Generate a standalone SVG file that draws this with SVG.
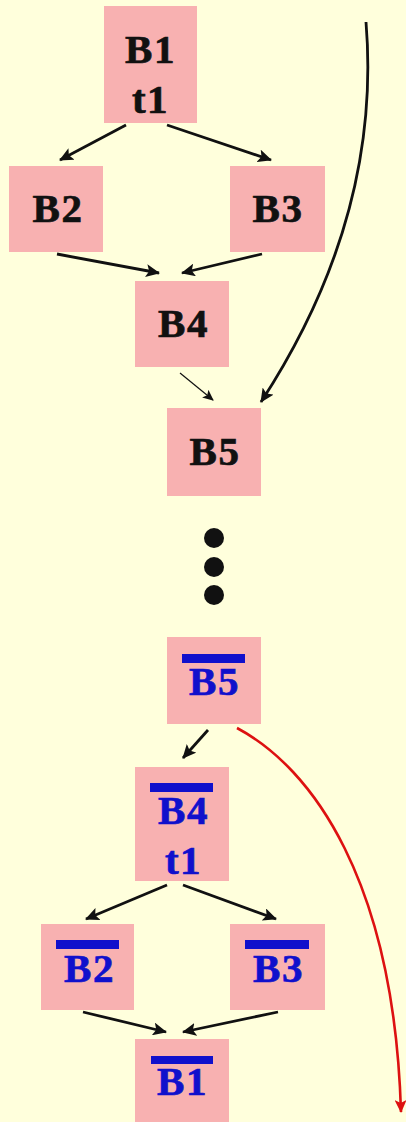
<svg xmlns="http://www.w3.org/2000/svg" width="406" height="1122" viewBox="0 0 406 1122">
  <style>
    .box { fill: #f8b1b1; }
    .lbl { font-family: "Liberation Serif", "Times New Roman", serif; font-weight: bold; font-size: 41px; text-anchor: middle; letter-spacing: 1.5px; stroke-width: 0.7px; }
    .fwd { fill: #111111; stroke: #111111; }
    .rev { fill: #1010cc; stroke: #1010cc; }
    .bar { fill: #1010cc; }
    .edge { fill: none; stroke: #111111; stroke-width: 2.8; marker-end: url(#head); }
    .thin { fill: none; stroke: #111111; stroke-width: 1.2; marker-end: url(#headSmall); }
    .red { fill: none; stroke: #dd1111; stroke-width: 2.6; marker-end: url(#headRed); }
  </style>
  <defs>
    <marker id="head" markerUnits="userSpaceOnUse" markerWidth="15" markerHeight="13" refX="13" refY="6.5" orient="auto">
      <path d="M0,0 L14,6.5 L0,13 L3,6.5 Z" fill="#111111"/>
    </marker>
    <marker id="headSmall" markerUnits="userSpaceOnUse" markerWidth="12" markerHeight="10" refX="10" refY="5" orient="auto">
      <path d="M0,0 L11,5 L0,10 L2.5,5 Z" fill="#111111"/>
    </marker>
    <marker id="headRed" markerUnits="userSpaceOnUse" markerWidth="14" markerHeight="12" refX="12" refY="6" orient="auto">
      <path d="M0,0 L13,6 L0,12 L3,6 Z" fill="#dd1111"/>
    </marker>
  </defs>

  <rect width="406" height="1122" fill="#ffffdc"/>

  <!-- forward flow graph -->
  <g id="B1">
    <rect class="box" x="104" y="6" width="93" height="117"/>
    <text class="lbl fwd" x="150.5" y="63">B1</text>
    <text class="lbl fwd" x="150.5" y="113">t1</text>
  </g>
  <g id="B2">
    <rect class="box" x="9" y="166" width="94" height="86"/>
    <text class="lbl fwd" x="58" y="222">B2</text>
  </g>
  <g id="B3">
    <rect class="box" x="230" y="166" width="95" height="86"/>
    <text class="lbl fwd" x="278" y="222">B3</text>
  </g>
  <g id="B4">
    <rect class="box" x="135" y="281" width="94" height="86"/>
    <text class="lbl fwd" x="183.5" y="337">B4</text>
  </g>
  <g id="B5">
    <rect class="box" x="167" y="408" width="94" height="88"/>
    <text class="lbl fwd" x="215" y="465">B5</text>
  </g>

  <!-- ellipsis between the two graphs -->
  <g id="ellipsis" fill="#111111">
    <circle cx="214" cy="538" r="10"/>
    <circle cx="214" cy="567" r="10"/>
    <circle cx="214" cy="595" r="10"/>
  </g>

  <!-- reversed flow graph -->
  <g id="B5r">
    <rect class="box" x="167" y="637" width="94" height="87"/>
    <rect class="bar" x="182" y="654" width="63" height="9"/>
    <text class="lbl rev" x="214.5" y="695">B5</text>
  </g>
  <g id="B4r">
    <rect class="box" x="135" y="767" width="94" height="114"/>
    <rect class="bar" x="150" y="783" width="63" height="9"/>
    <text class="lbl rev" x="183.5" y="824">B4</text>
    <text class="lbl rev" x="183.5" y="874">t1</text>
  </g>
  <g id="B2r">
    <rect class="box" x="41" y="924" width="93" height="86"/>
    <rect class="bar" x="56" y="940" width="63" height="9"/>
    <text class="lbl rev" x="89.5" y="982">B2</text>
  </g>
  <g id="B3r">
    <rect class="box" x="230" y="924" width="95" height="86"/>
    <rect class="bar" x="245" y="940" width="64" height="9"/>
    <text class="lbl rev" x="278.5" y="982">B3</text>
  </g>
  <g id="B1r">
    <rect class="box" x="135" y="1039" width="94" height="83"/>
    <rect class="bar" x="151" y="1056" width="62" height="8"/>
    <text class="lbl rev" x="182.5" y="1095">B1</text>
  </g>

  <g id="connectors">
    <path class="edge" d="M126,125 L60,160"/>
    <path class="edge" d="M167,125 L271,160"/>
    <path class="edge" d="M57,254 L159,273"/>
    <path class="edge" d="M262,254 L182,273"/>
    <path class="thin" d="M180,373 L213,400"/>
    <path class="edge" d="M366,22 C374,120 360,250 261,402"/>
    <path class="edge" d="M208,730 L183,758"/>
    <path class="edge" d="M167,885 L86,919"/>
    <path class="edge" d="M183,885 L276,919"/>
    <path class="edge" d="M83,1012 L166,1032"/>
    <path class="edge" d="M278,1012 L183,1032"/>
    <path class="red" d="M237,728 C312,768 394,880 401,1112"/>
  </g>
</svg>
